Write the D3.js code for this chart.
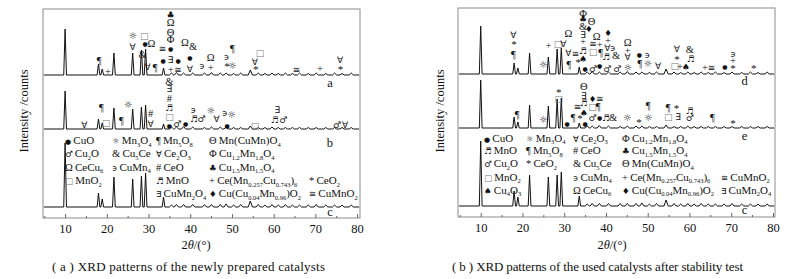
<!DOCTYPE html>
<html>
<head>
<meta charset="utf-8">
<script src="https://cdn.jsdelivr.net/npm/d3@7"></script>
<style>
body { margin: 0; background: #fff; }
svg text { font-family: "Liberation Serif", "Times New Roman", "DejaVu Serif", serif; fill: #111; }
svg text .sym, svg text.sym { font-family: "DejaVu Sans", "DejaVu Serif", sans-serif; }
</style>
</head>
<body>
<svg id="fig" width="794" height="279"></svg>
<script>
// 2theta of the peaks, shared by every pattern
var mainPeaks = [10.0, 18.0, 18.9, 21.7, 26.2, 28.3, 29.3, 33.6];
var minorPeaks = [35.5, 36.7, 38.4, 40.6, 43.4, 45.1, 47.2, 48.6, 50.4, 52.1, 54.4, 56.3,
                  57.9, 59.6, 61.1, 62.8, 64.5, 66.2, 68.3, 70.2, 72.5, 74.6, 76.4, 78.6];

// peak intensities (a.u.)
var heightsA  = [46, 11, 6, 22, 22, 25, 26, 7];
var heightsB  = [38, 10, 6, 21, 20, 22, 24, 5];
var heightsC  = [64, 14, 8, 30, 28, 31, 34, 10];
var heightsD  = [48, 11, 6, 21, 17, 25, 26, 7];
var heightsE  = [48, 11, 6, 23, 22, 29, 30, 5];
var heightsC2 = [65, 15, 9, 31, 29, 31, 34, 10];
var minorTop  = [2, 2.5, 2, 2, 2, 2.5, 2, 2, 1.5, 2, 5, 2, 1.5, 2, 1.5, 2, 1.5, 2, 1.5, 2, 1.5, 2, 1.5, 2];
var minorMid  = [2, 2, 2.5, 2, 1.5, 2, 2, 2, 1.5, 1.5, 3, 1.5, 1.5, 2, 1.5, 1.5, 1.5, 1.5, 1.5, 1.5, 1.5, 1.5, 1.5, 1.5];
var minorLow  = [2, 2.5, 2.5, 2.5, 2.5, 2.5, 2.5, 3, 2, 2.5, 6, 2.5, 2, 2.5, 2, 2.5, 2, 2, 2, 2.5, 2, 2, 2, 2];

// baseline offset of each pattern (a.u.)
var offsetTop = 143, offsetMid = 89, offsetLow = 11;

var tickValues = [10, 20, 30, 40, 50, 60, 70, 80];
var minorTicks = [5, 15, 25, 35, 45, 55, 65, 75];

// phase marks: [2theta, level, glyph]
var marksA = [
  [18.15, 158, "¶"], [20.3, 147, "+"], [26.2, 183, "☼"], [26.2, 171, "∀"],
  [28.95, 182, "□"], [29.2, 175, "●"], [30.7, 175, "Ω"], [28.55, 164, "&"],
  [29.8, 151, "∀"], [31.6, 151, "¶"], [33.35, 169, "≅"],
  [35.3, 203, "♣"], [35.3, 196, "Ω"], [35.3, 186, "Θ"], [35.3, 178.5, "Φ"], [35.3, 170, "●"],
  [35.3, 158, "∃"], [35.3, 149, "+"], [33.5, 158, "●"],
  [37.1, 158, "●"], [37.1, 148, "≅"], [38.7, 175.5, "Ω"], [40.7, 171.5, "&"],
  [39.9, 161, "●"], [39.9, 149.5, "∀"], [42.8, 152, "϶"], [44.9, 161, "Ω"], [44.9, 150.5, "+"],
  [48.7, 161.5, "϶"], [50.1, 169.5, "¶"], [48.8, 152.5, "*"], [50.1, 152.5, "☼"],
  [56.7, 165, "□"], [55.5, 156, "∀"], [55.7, 149.5, "*"], [65.5, 148.5, "≅"],
  [71.1, 149.5, "+"], [75.9, 158, "∀"], [76.0, 149, "*"]
];
var marksB = [
  [14.6, 93.5, "∀"], [18.7, 110.5, "¶"], [19.8, 95.5, "□"], [23.5, 98, "¶"], [25.1, 114, "☼"],
  [30.5, 104.5, "#"], [30.5, 94.5, "∀"],
  [35.0, 137, "&"], [35.0, 129, "∃"], [35.0, 120, "#"], [35.0, 110, "♬"], [35.0, 101, "□"], [35.0, 93, "●"],
  [36.9, 94.5, "♂"], [38.9, 94.5, "●"], [40.7, 108, "϶"], [40.9, 99, "♬"], [42.7, 99.5, "♂"],
  [44.9, 108, "☼"], [46.3, 99, "∀"], [48.3, 105, "϶"], [49.9, 104, "☼"], [48.85, 92.5, "●"],
  [55.5, 92.5, "□"], [60.9, 108, "∃"], [60.3, 98.5, "♬"], [62.3, 98.5, "♂"],
  [75.2, 93.5, "♂"], [77.1, 93.5, "∀"]
];
var marksD = [
  [17.8, 182, "∀"], [18.0, 173, "*"], [17.8, 163, "¶"], [25.0, 153, "☼"], [26.2, 171.5, "+"],
  [28.5, 173.5, "□"], [29.8, 173.5, "∀"], [31.0, 183.5, "Ω"], [31.0, 164.5, "∀"], [31.1, 153, "¶"],
  [32.7, 163.5, "≅"], [33.35, 155.5, "*"],
  [34.5, 204, "Φ"], [34.5, 198, "♣"], [34.5, 190.5, "&"], [34.5, 182, "∃"], [34.5, 175.5, "+"],
  [34.5, 166.5, "♬"], [34.5, 158, "♠"], [35.0, 149, "●"], [36.55, 196, "Θ"], [35.9, 188, "♦"],
  [37.75, 180.5, "Ω"], [36.9, 173, "≅"], [38.5, 173, "+"], [36.9, 165, "□"], [38.7, 165, "¶"],
  [36.9, 148.5, "♂"], [38.5, 151.5, "●"], [40.1, 160.5, "♬"],
  [40.5, 184.5, "♦"], [40.5, 177, "+"], [40.3, 169.5, "∀"], [41.6, 169.5, "϶"], [42.4, 161.5, "&"],
  [40.3, 148.5, "♂"], [42.7, 148.5, "♂"],
  [45.2, 174.5, "Ω"], [45.2, 167, "+"], [45.2, 160.5, "∀"], [45.2, 149.5, "☼"],
  [48.0, 162.5, "●"], [48.1, 154, "¶"], [49.9, 162, "϶"], [50.0, 154, "☼"], [52.5, 151, "∀"],
  [57.0, 168, "∀"], [57.0, 158, "*"], [56.5, 151, "□"], [57.7, 151, "+"], [59.1, 150.5, "♠"],
  [60.1, 168, "&"], [60.3, 158.5, "♬"], [63.7, 149.5, "+"], [65.3, 149.5, "≅"], [68.5, 151, "●"],
  [70.4, 163, "϶"], [70.4, 157, "+"], [70.4, 149.5, "*"], [75.4, 149.5, "*"]
];
var marksE = [
  [18.75, 103, "¶"], [25.0, 98, "☼"], [28.7, 125.5, "*"], [28.7, 118, "□"],
  [34.7, 130.5, "Θ"], [34.7, 121.5, "∃"], [34.7, 114, "♬"], [34.7, 104, "♠"], [35.0, 94, "●"],
  [33.2, 110.5, "≅"], [32.15, 99.5, "¶"], [33.75, 99.5, "*"], [30.7, 94, "●"],
  [36.8, 118, "♦"], [38.5, 118, "≅"], [36.8, 110.5, "□"], [38.1, 110.5, "¶"],
  [36.8, 99.5, "♂"], [38.5, 99.5, "●"], [40.0, 99.5, "♬"], [41.7, 99.5, "&"],
  [45.1, 99.5, "☼"], [47.9, 95.5, "*"], [50.1, 112, "¶"], [50.1, 99.5, "☼"],
  [54.9, 109.5, "¶"], [56.9, 109.5, "*"], [54.9, 100, "□"], [57.3, 100, "∃"],
  [60.1, 106.5, "♬"], [60.1, 99, "♂"], [65.5, 99.5, "¶"], [70.4, 94, "*"]
];

// legend entries: [column, row, glyph, phase]
var legendLeft = [
  [0, 0, "●", "CuO"], [0, 1, "♂", "Cu_{2}O"], [0, 2, "Ω", "CeCu_{6}"], [0, 3, "□", "MnO_{2}"],
  [1, 0, "☼", "Mn_{3}O_{4}"], [1, 1, "&", "Cu_{5}Ce"], [1, 2, "϶", "CuMn_{4}"],
  [2, 0, "¶", "Mn_{5}O_{8}"], [2, 1, "∀", "Ce_{2}O_{3}"], [2, 2, "#", "CeO"], [2, 3, "♬", "MnO"], [2, 4, "∃", "CuMn_{2}O_{4}"],
  [3, 0, "Θ", "Mn(CuMn)O_{4}"], [3, 1, "Φ", "Cu_{1.2}Mn_{1.8}O_{4}"], [3, 2, "♣", "Cu_{1.5}Mn_{1.5}O_{4}"],
  [3, 3, "+", "Ce(Mn_{0.257}Cu_{0.743})_{6}"], [3, 4, "♦", "Cu(Cu_{0.04}Mn_{0.96})O_{2}"],
  [4, 3, "*", "CeO_{2}"], [4, 4, "≅", "CuMnO_{2}"]
];
var legendRight = [
  [0, 0, "●", "CuO"], [0, 1, "♬", "MnO"], [0, 2, "♂", "Cu_{2}O"], [0, 3, "□", "MnO_{2}"], [0, 4, "♠", "Cu_{4}O_{3}"],
  [1, 0, "☼", "Mn_{3}O_{4}"], [1, 1, "¶", "Mn_{5}O_{8}"], [1, 2, "*", "CeO_{2}"],
  [2, 0, "∀", "Ce_{2}O_{3}"], [2, 1, "#", "CeO"], [2, 2, "&", "Cu_{5}Ce"], [2, 3, "϶", "CuMn_{4}"], [2, 4, "Ω", "CeCu_{6}"],
  [3, 0, "Φ", "Cu_{1.2}Mn_{1.8}O_{4}"], [3, 1, "♣", "Cu_{1.5}Mn_{1.5}O_{4}"], [3, 2, "Θ", "Mn(CuMn)O_{4}"],
  [3, 3, "+", "Ce(Mn_{0.257}Cu_{0.743})_{6}"], [3, 4, "♦", "Cu(Cu_{0.04}Mn_{0.96})O_{2}"],
  [4, 3, "≅", "CuMnO_{2}"], [4, 4, "∃", "CuMn_{2}O_{4}"]
];

var svg = d3.select("#fig");

var panels = [
  {left: 43, right: 360, top: 9, bottom: 218, domain: [4.7, 80.7],
   traces: [
     {h: heightsA, m: minorTop, off: offsetTop, marks: marksA, name: "a", at: [73.5, -8]},
     {h: heightsB, m: minorMid, off: offsetMid, marks: marksB, name: "b", at: [73.5, -14]},
     {h: heightsC, m: minorLow, off: offsetLow, marks: [], name: "c", at: [73.5, -5]}
   ],
   legend: legendLeft, legendX: [65, 112, 156, 209, 309], legendY: [140, 153.3, 166.6, 180, 193.3],
   ytitleX: 24, xtitleX: 196,
   caption: "( a )  XRD patterns of the newly prepared catalysts", capX: [52, 325]},
  {left: 458, right: 775, top: 8, bottom: 217, domain: [4.56, 80.48],
   traces: [
     {h: heightsD, m: minorTop, off: offsetTop, marks: marksD, name: "d", at: [73.2, -7]},
     {h: heightsE, m: minorMid, off: offsetMid, marks: marksE, name: "e", at: [73.2, -8]},
     {h: heightsC2, m: minorLow, off: offsetLow, marks: [], name: "c", at: [73.2, -4]}
   ],
   legend: legendRight, legendX: [484, 526, 573, 622, 721], legendY: [137.5, 150.3, 163.2, 176.5, 189.5],
   ytitleX: 440, xtitleX: 612,
   caption: "( b )  XRD patterns of the used catalysts after stability test", capX: [452, 743]}
];

// glyphs taken from DejaVu Sans, with their size
var sansGlyph = {"●": 6, "♬": 9, "♂": 9, "☼": 9.5, "♣": 9, "♠": 9, "♦": 8.5, "϶": 9, "∃": 9, "∀": 9, "≅": 9, "□": 9};
var noEmoji = "\uFE0E";

function glyphText(s) {
  return "♂☼♣♠♦".indexOf(s) >= 0 ? s + noEmoji : s;
}

// phase formula with _{..} subscripts
function formula(sel, str) {
  var parts = str.split(/_\{([^}]*)\}/);
  var low = false;
  parts.forEach(function(p, i) {
    if (p === "") return;
    var sub = i % 2 === 1;
    var t = sel.append("tspan").text(p);
    if (sub && !low) { t.attr("dy", 2.5).attr("font-size", "6.5px"); low = true; }
    else if (sub) { t.attr("font-size", "6.5px"); }
    else if (low) { t.attr("dy", -2.5); low = false; }
  });
}

panels.forEach(function(p) {
  var x = d3.scaleLinear().domain(p.domain).range([p.left, p.right]);
  var y = d3.scaleLinear().domain([0, p.bottom - p.top]).range([p.bottom, p.top]);
  var g = svg.append("g");

  var line = d3.line()
    .x(function(d) { return x(d[0]); })
    .y(function(d) { return y(d[1]); });

  p.traces.forEach(function(tr) {
    var peaks = [];
    mainPeaks.forEach(function(pos, i) { peaks.push([pos, tr.h[i], 0.33]); });
    minorPeaks.forEach(function(pos, i) { peaks.push([pos, tr.m[i], 0.5]); });
    peaks.sort(function(a, b) { return a[0] - b[0]; });
    var pts = [[p.domain[0] + 0.2, tr.off]];
    peaks.forEach(function(k) {
      pts.push([k[0] - k[2], tr.off], [k[0], tr.off + k[1]], [k[0] + k[2], tr.off]);
    });
    pts.push([p.domain[1] - 0.2, tr.off]);
    g.append("path").attr("d", line(pts))
      .attr("fill", "none").attr("stroke", "#111").attr("stroke-width", 1);

    g.selectAll(null).data(tr.marks).enter().append("text")
      .attr("class", function(d) { return sansGlyph[d[2]] ? "sym" : null; })
      .attr("x", function(d) { return x(d[0]); })
      .attr("y", function(d) { return y(d[1]); })
      .attr("text-anchor", "middle")
      .attr("dominant-baseline", "central")
      .attr("font-size", function(d) { return (sansGlyph[d[2]] || (d[2] === "*" ? 11 : 10.5)) + "px"; })
      .attr("font-weight", function(d) { return d[2] === "☼" ? "bold" : null; })
      .style("fill", function(d) { return d[2] === "□" ? "#777" : "#111"; })
      .text(function(d) { return glyphText(d[2]); });

    g.append("text")
      .attr("x", x(tr.at[0]))
      .attr("y", y(tr.off + tr.at[1]))
      .attr("text-anchor", "middle")
      .attr("dominant-baseline", "central")
      .attr("font-size", "12.5px")
      .text(tr.name);
  });

  // legend
  p.legend.forEach(function(e) {
    var t = g.append("text")
      .attr("x", p.legendX[e[0]])
      .attr("y", p.legendY[e[1]] + 4)
      .attr("font-size", "11px");
    var s = t.append("tspan")
      .attr("font-size", (sansGlyph[e[2]] ? (e[2] === "●" ? 7 : 8.5) : 10.5) + "px")
      .style("fill", e[2] === "□" ? "#777" : "#111")
      .text(glyphText(e[2]));
    if (sansGlyph[e[2]]) s.attr("class", "sym");
    if (e[2] === "☼") s.attr("font-weight", "bold");
    t.append("tspan").text("\u2009");
    formula(t, e[3]);
  });

  // frame + ticks
  g.append("rect")
    .attr("x", p.left).attr("y", p.top)
    .attr("width", p.right - p.left).attr("height", p.bottom - p.top)
    .attr("fill", "none").attr("stroke", "#8c8c8c").attr("stroke-width", 1);

  var ax = g.append("g").attr("transform", "translate(0," + p.bottom + ")")
    .call(d3.axisBottom(x).tickValues(tickValues).tickSize(-4).tickPadding(6));
  ax.select(".domain").remove();
  ax.selectAll("line").attr("stroke", "#666");
  ax.selectAll("text").attr("font-size", "12.5px").style("fill", "#111");

  var mx = g.append("g").attr("transform", "translate(0," + p.bottom + ")")
    .call(d3.axisBottom(x).tickValues(minorTicks).tickSize(-2).tickFormat(""));
  mx.select(".domain").remove();
  mx.selectAll("line").attr("stroke", "#666");

  // titles
  g.append("text")
    .attr("transform", "translate(" + p.ytitleX + "," + 111 + ") rotate(-90)")
    .attr("text-anchor", "middle")
    .attr("dominant-baseline", "central")
    .attr("font-size", "12.5px")
    .text("Intensity /counts");

  var xt = g.append("text")
    .attr("x", p.xtitleX).attr("y", 249)
    .attr("text-anchor", "middle")
    .attr("font-size", "12.5px");
  xt.append("tspan").text("2");
  xt.append("tspan").attr("font-style", "italic").text("θ");
  xt.append("tspan").text("/(°)");

  g.append("text")
    .attr("x", p.capX[0]).attr("y", 271)
    .attr("font-size", "13px")
    .attr("textLength", p.capX[1] - p.capX[0])
    .attr("lengthAdjust", "spacing")
    .text(p.caption);
});
</script>
</body>
</html>
